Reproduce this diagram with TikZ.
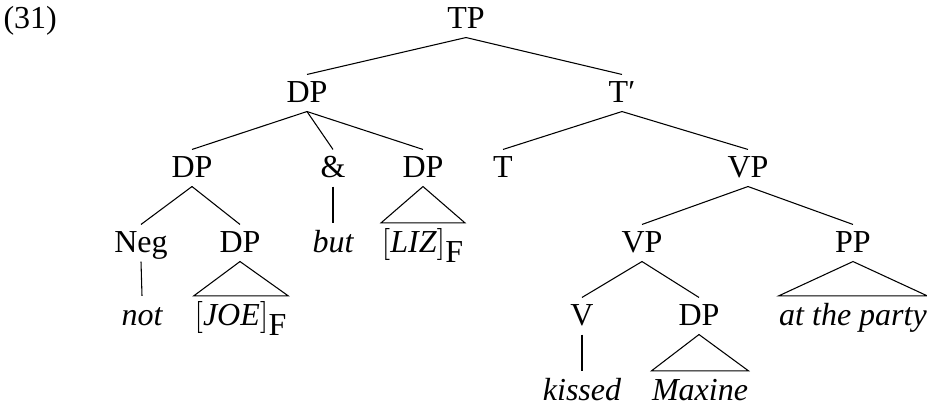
\documentclass[tikz,border=0pt]{standalone}
\usepackage{fontspec}
\setmainfont{Liberation Serif}
\begin{document}
\begin{tikzpicture}[x=0.375pt, y=-0.375pt, font=\fontsize{12}{14.4}\selectfont,
  lbl/.style={anchor=base, inner xsep=0pt, inner ysep=2.5pt, text height=8pt, text depth=0.5pt},
  wd/.style={lbl, text height=8.6pt, font=\fontsize{12}{14.4}\selectfont\itshape}]
\useasboundingbox (0,0) rectangle (927,406);

\node[anchor=base west, inner sep=0pt] (ex) at (3,29) {(31)};

\node[lbl] (tp) at (466,29) {TP};
\node[lbl] (dp) at (307,103) {DP};
\node[lbl] (tbar) at (622,103) {T′};

\node[lbl] (dpa) at (192,178) {DP};
\node[lbl] (conj) at (333,178) {\&};
\node[lbl] (dpb) at (423,178) {DP};
\node[lbl] (t) at (503,178) {T};
\node[lbl] (vp) at (748,178) {VP};

\node[lbl] (neg) at (141,253) {Neg};
\node[lbl] (dpc) at (240,253) {DP};
\node[wd] (but) at (333,253) {but};
\node[wd] (liz) at (423,253) {$[\textit{LIZ}]_{\textup{F}}$};
\node[lbl] (vpb) at (642,253) {VP};
\node[lbl] (pp) at (853,253) {PP};

\node[wd] (not) at (142,326) {not};
\node[wd] (joe) at (241,326) {$[\textit{JOE}]_{\textup{F}}$};
\node[lbl] (v) at (582,326) {V};
\node[lbl] (dpd) at (699,326) {DP};
\node[wd] (party) at (853,326) {at the party};

\node[wd] (kissed) at (582,401) {kissed};
\node[wd] (maxine) at (700,401) {Maxine};

\draw (tp.south) -- (dp.north);
\draw (tp.south) -- (tbar.north);
\draw (dp.south) -- (dpa.north);
\draw (dp.south) -- (conj.north);
\draw (dp.south) -- (dpb.north);
\draw (tbar.south) -- (t.north);
\draw (tbar.south) -- (vp.north);
\draw (dpa.south) -- (neg.north);
\draw (dpa.south) -- (dpc.north);
\draw (conj.south) -- (but.north);
\draw (dpb.south) -- (liz.north west) -- (liz.north east) -- cycle;
\draw (vp.south) -- (vpb.north);
\draw (vp.south) -- (pp.north);
\draw (neg.south) -- (not.north);
\draw (dpc.south) -- (joe.north west) -- (joe.north east) -- cycle;
\draw (vpb.south) -- (v.north);
\draw (vpb.south) -- (dpd.north);
\draw (pp.south) -- (party.north west) -- (party.north east) -- cycle;
\draw (v.south) -- (kissed.north);
\draw (dpd.south) -- (maxine.north west) -- (maxine.north east) -- cycle;
\end{tikzpicture}
\end{document}
